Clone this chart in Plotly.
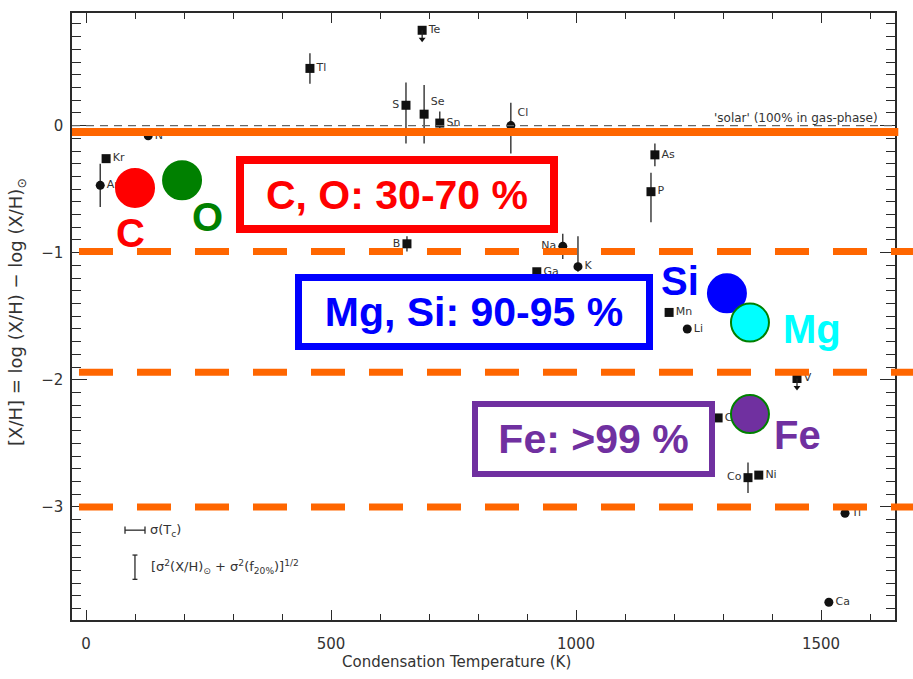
import plotly.graph_objects as go

# ---------------- data ----------------
elements = ["Te", "Tl", "S", "Se", "Sn", "Cl", "N", "Kr", "Ar", "B", "Na", "Ga", "K",
            "As", "P", "Mn", "Li", "V", "Cr", "Co", "Ni", "Ti", "Ca"]
cond_temp = [686, 457, 653, 690, 722, 867, 127, 41, 29, 655, 973, 920, 1004,
             1161, 1153, 1190, 1227, 1451, 1290, 1351, 1373, 1549, 1516]
depletion = [0.75, 0.45, 0.16, 0.09, 0.02, 0.00, -0.08, -0.26, -0.47, -0.93, -0.95, -1.15, -1.11,
             -0.23, -0.52, -1.47, -1.60, -1.99, -2.30, -2.77, -2.75, -3.05, -3.75]
marker_kind = ["square", "square", "square", "square", "square", "circle", "circle", "square",
               "circle", "square", "circle", "square", "circle", "square", "square", "square",
               "circle", "square", "square", "square", "square", "circle", "circle"]
err_up = [0.00, 0.12, 0.18, 0.23, 0.09, 0.18, 0.00, 0.00, 0.17, 0.06, 0.10, 0.00, 0.24,
          0.09, 0.15, 0.00, 0.00, 0.00, 0.00, 0.12, 0.00, 0.00, 0.00]
err_down = [0.00, 0.12, 0.30, 0.23, 0.09, 0.22, 0.00, 0.00, 0.17, 0.06, 0.10, 0.00, 0.04,
            0.09, 0.24, 0.00, 0.00, 0.00, 0.00, 0.12, 0.00, 0.00, 0.00]
upper_limit = [True, False, False, False, False, False, False, False, False, False, False, False,
               False, False, False, False, False, True, False, False, False, False, False]
label_side = ["middle right", "middle right", "middle left", "top right", "middle right",
              "top right", "middle right", "middle right", "middle right", "middle left",
              "middle left", "middle right", "middle right", "middle right", "middle right",
              "middle right", "middle right", "middle right", "middle right", "middle left",
              "middle right", "middle right", "middle right"]
arrow_len = 0.07

# highlighted elements (overlay)
hl_elements = ["C", "O", "Si", "Mg", "Fe"]
hl_temp = [100, 196, 1308, 1355, 1355]
hl_depletion = [-0.49, -0.43, -1.32, -1.55, -2.27]
hl_fill = ["#FF0000", "#008000", "#0000FF", "#00FFFF", "#7030A0"]
hl_edge = ["#FF0000", "#008000", "#0000FF", "#008000", "#008000"]
hl_label_shift = [(-5, -45), (25, -37), (-47, 12), (62, -6), (48, -21)]

# depletion reference levels (orange lines)
solar_level = -0.05
dashed_levels = [-0.99, -1.94, -3.0]

# fraction boxes
box_texts = ["C, O: 30-70 %", "Mg, Si: 90-95 %", "Fe: >99 %"]
box_colors = ["#FF0000", "#0000FF", "#7030A0"]
box_temp = [635, 792, 1036]
box_depl = [-0.545, -1.467, -2.463]
box_w = [306, 344, 231]
box_h = [61, 62, 64]
box_bw = [8, 7, 6]

INK = "#2a2a2a"
SCANFONT = "DejaVu Sans"

fig = go.Figure()

# scanned data points
fig.add_trace(go.Scatter(
    x=cond_temp, y=depletion, mode="markers+text",
    text=elements, textposition=label_side,
    textfont=dict(family=SCANFONT, size=11, color="#333"),
    marker=dict(symbol=marker_kind, size=9, color="#111"),
    error_y=dict(type="data", symmetric=False, array=err_up, arrayminus=err_down,
                 width=0, thickness=1.3, color="#222"),
    showlegend=False, hoverinfo="skip"))

# upper limit arrows
ul_x = [t for t, u in zip(cond_temp, upper_limit) if u]
ul_y = [d - arrow_len for d, u in zip(depletion, upper_limit) if u]
fig.add_trace(go.Scatter(
    x=ul_x, y=ul_y, mode="markers",
    marker=dict(symbol="triangle-down", size=6, color="#111"),
    error_y=dict(type="data", symmetric=False, array=[arrow_len] * len(ul_x),
                 arrayminus=[0] * len(ul_x), width=0, thickness=1.3, color="#222"),
    showlegend=False, hoverinfo="skip"))

# highlighted element circles
fig.add_trace(go.Scatter(
    x=hl_temp, y=hl_depletion, mode="markers",
    marker=dict(size=38, color=hl_fill, line=dict(color=hl_edge, width=2), opacity=1),
    showlegend=False, hoverinfo="skip", cliponaxis=False))

shapes = []
# original thin dashed solar line
shapes.append(dict(type="line", xref="paper", yref="y", x0=0, x1=1, y0=0, y1=0,
                   line=dict(color="#666", width=1.3, dash="8px,6px")))
# orange solid and dashed lines
shapes.append(dict(type="line", xref="paper", yref="y", x0=0, x1=1.004,
                   y0=solar_level, y1=solar_level,
                   line=dict(color="#FF6600", width=8)))
for lv in dashed_levels:
    shapes.append(dict(type="line", xref="paper", yref="y", x0=0.0085, x1=1.03,
                       y0=lv, y1=lv, line=dict(color="#FF6600", width=7, dash="34px,24px")))

# legend key symbols (bottom-left)
shapes += [
    dict(type="line", xref="paper", yref="paper", x0=0.0644, x1=0.0887, y0=0.148, y1=0.148,
         line=dict(color=INK, width=1.3)),
    dict(type="line", xref="paper", yref="paper", x0=0.0644, x1=0.0644, y0=0.142, y1=0.154,
         line=dict(color=INK, width=1.3)),
    dict(type="line", xref="paper", yref="paper", x0=0.0887, x1=0.0887, y0=0.142, y1=0.154,
         line=dict(color=INK, width=1.3)),
    dict(type="line", xref="paper", yref="paper", x0=0.0765, x1=0.0765, y0=0.067, y1=0.107,
         line=dict(color=INK, width=1.3)),
    dict(type="line", xref="paper", yref="paper", x0=0.0735, x1=0.0795, y0=0.107, y1=0.107,
         line=dict(color=INK, width=1.3)),
    dict(type="line", xref="paper", yref="paper", x0=0.0735, x1=0.0795, y0=0.067, y1=0.067,
         line=dict(color=INK, width=1.3)),
]

annotations = []
annotations.append(dict(xref="x", yref="y", x=1620, y=0.06, xanchor="right", yanchor="middle",
                        text="'solar' (100% in gas-phase)", showarrow=False,
                        font=dict(family=SCANFONT, size=12, color="#333")))
annotations.append(dict(xref="paper", yref="paper", x=0.092, y=0.148, xanchor="left",
                        yanchor="middle", text="σ(T<sub>c</sub>)", showarrow=False,
                        font=dict(family=SCANFONT, size=13, color="#333")))
annotations.append(dict(xref="paper", yref="paper", x=0.094, y=0.087, xanchor="left",
                        yanchor="middle",
                        text="[σ<sup>2</sup>(X/H)<sub>⊙</sub> + σ<sup>2</sup>(f<sub>20%</sub>)]<sup>1/2</sup>",
                        showarrow=False, font=dict(family=SCANFONT, size=13, color="#333")))
# axis titles
annotations.append(dict(xref="paper", yref="paper", x=0.4666, y=-0.069, xanchor="center",
                        yanchor="middle", text="Condensation Temperature (K)", showarrow=False,
                        font=dict(family=SCANFONT, size=15, color="#333")))
annotations.append(dict(xref="paper", yref="paper", x=-0.066, y=0.507, xanchor="center",
                        yanchor="middle", textangle=-90,
                        text="[X/H] = log (X/H) − log (X/H)<sub>⊙</sub>", showarrow=False,
                        font=dict(family=SCANFONT, size=18, color="#333")))

# boxes
for t, c, bx, by, w, h, bw in zip(box_texts, box_colors, box_temp, box_depl, box_w, box_h, box_bw):
    annotations.append(dict(xref="x", yref="y", x=bx, y=by, xanchor="center", yanchor="middle",
                            text="<b>" + t + "</b>", showarrow=False, width=w, height=h,
                            align="center", valign="middle", bgcolor="white", bordercolor=c,
                            borderwidth=bw, borderpad=0,
                            font=dict(family="Liberation Sans", size=41, color=c)))

# element labels near circles
for el, t, d, col, (dx, dy) in zip(hl_elements, hl_temp, hl_depletion, hl_fill, hl_label_shift):
    annotations.append(dict(xref="x", yref="y", x=t, y=d, xshift=dx, yshift=dy,
                            xanchor="center", yanchor="middle", text="<b>" + el + "</b>",
                            showarrow=False, font=dict(family="Liberation Sans", size=40, color=col)))

axis_common = dict(showline=True, linecolor=INK, linewidth=1.5, mirror="allticks",
                   ticks="inside", tickcolor=INK, tickwidth=1.4, showgrid=False, zeroline=False,
                   tickfont=dict(family=SCANFONT, size=15, color="#333"))

fig.update_layout(
    width=913, height=679,
    margin=dict(l=72, r=18, t=11, b=59),
    paper_bgcolor="white", plot_bgcolor="white",
    xaxis=dict(range=[-28.6, 1651], tick0=0, dtick=500, ticklen=10, ticklabelstandoff=9,
               minor=dict(dtick=100, ticks="inside", ticklen=6, tickcolor=INK, tickwidth=1.2),
               **axis_common),
    yaxis=dict(range=[-3.89, 0.886], tick0=0, dtick=1, ticklen=15, ticklabelstandoff=4,
               minor=dict(dtick=0.1, ticks="inside", ticklen=9, tickcolor=INK, tickwidth=1.2),
               **axis_common),
    shapes=shapes, annotations=annotations,
    showlegend=False,
)

fig.write_html("out.html", config={"displayModeBar": False})
